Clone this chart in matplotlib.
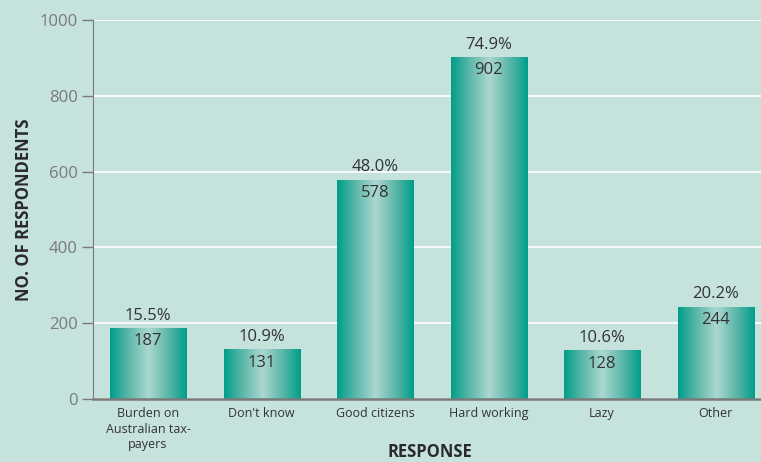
import numpy as np
import matplotlib
matplotlib.use("Agg")
import matplotlib.pyplot as plt
from matplotlib.colors import LinearSegmentedColormap

plt.rcParams["font.family"] = ["Open Sans", "DejaVu Sans"]

categories = ["Burden on\nAustralian tax-\npayers", "Don't know", "Good citizens",
              "Hard working", "Lazy", "Other"]
counts = [187, 131, 578, 902, 128, 244]
percents = ["15.5%", "10.9%", "48.0%", "74.9%", "10.6%", "20.2%"]
yticks = [0, 200, 400, 600, 800, 1000]

BG = "#c5e2dd"
TEAL_DARK = "#009e8a"
TEAL_LIGHT = "#acd8d0"
TEXT = "#333333"
GREY = "#7a7a7a"

fig = plt.figure(figsize=(7.61, 4.62), dpi=100)
fig.patch.set_facecolor(BG)
ax = fig.add_axes([93 / 761, 1 - 399 / 462, 1 - 93 / 761, (399 - 20) / 462])
ax.set_facecolor(BG)

x = np.arange(len(categories))
width = 0.67
bars = ax.bar(x, counts, width=width, color=TEAL_DARK, zorder=3)

# horizontal gradient fill, dark at the edges and pale in the middle
cmap = LinearSegmentedColormap.from_list(
    "teal", [TEAL_DARK, "#5fb8aa", TEAL_LIGHT, "#5fb8aa", TEAL_DARK])
grad = np.linspace(0, 1, 256).reshape(1, -1)
for b in bars:
    x0, y0 = b.get_x(), b.get_y()
    im = ax.imshow(grad, cmap=cmap, aspect="auto", zorder=4,
                   extent=[x0, x0 + b.get_width(), y0, y0 + b.get_height()])
    im.set_clip_path(b)

for xi, c, p in zip(x, counts, percents):
    ax.text(xi, c + 12, p, ha="center", va="bottom", fontsize=12, color=TEXT, zorder=5)
    ax.text(xi, c - 14, str(c), ha="center", va="top", fontsize=12, color=TEXT, zorder=5)

ax.set_xlim(-0.485, 5.40)
ax.set_ylim(0, 1000)
ax.set_yticks(yticks)
ax.set_yticklabels([str(t) for t in yticks], fontsize=12, color=GREY)
ax.set_xticks(x)
ax.set_xticklabels(categories, fontsize=9, color=TEXT, linespacing=1.25)
ax.tick_params(axis="x", length=0, pad=6)
ax.tick_params(axis="y", length=8, width=1, color=GREY, pad=3)
ax.yaxis.grid(True, color="white", lw=1.2, zorder=1)
ax.set_axisbelow(True)

for s in ["top", "right"]:
    ax.spines[s].set_visible(False)
ax.spines["left"].set_color(GREY)
ax.spines["bottom"].set_color(GREY)
ax.spines["bottom"].set_linewidth(1.8)
ax.spines["bottom"].set_zorder(6)

ax.set_ylabel("NO. OF RESPONDENTS", fontsize=12, weight="bold", color="#2a2a2a", labelpad=5)
fig.text(430 / 761, 1 - 452 / 462, "RESPONSE", ha="center", va="center",
         fontsize=12, weight="bold", color="#2a2a2a")

fig.savefig("out.png", dpi=100, facecolor=BG)
